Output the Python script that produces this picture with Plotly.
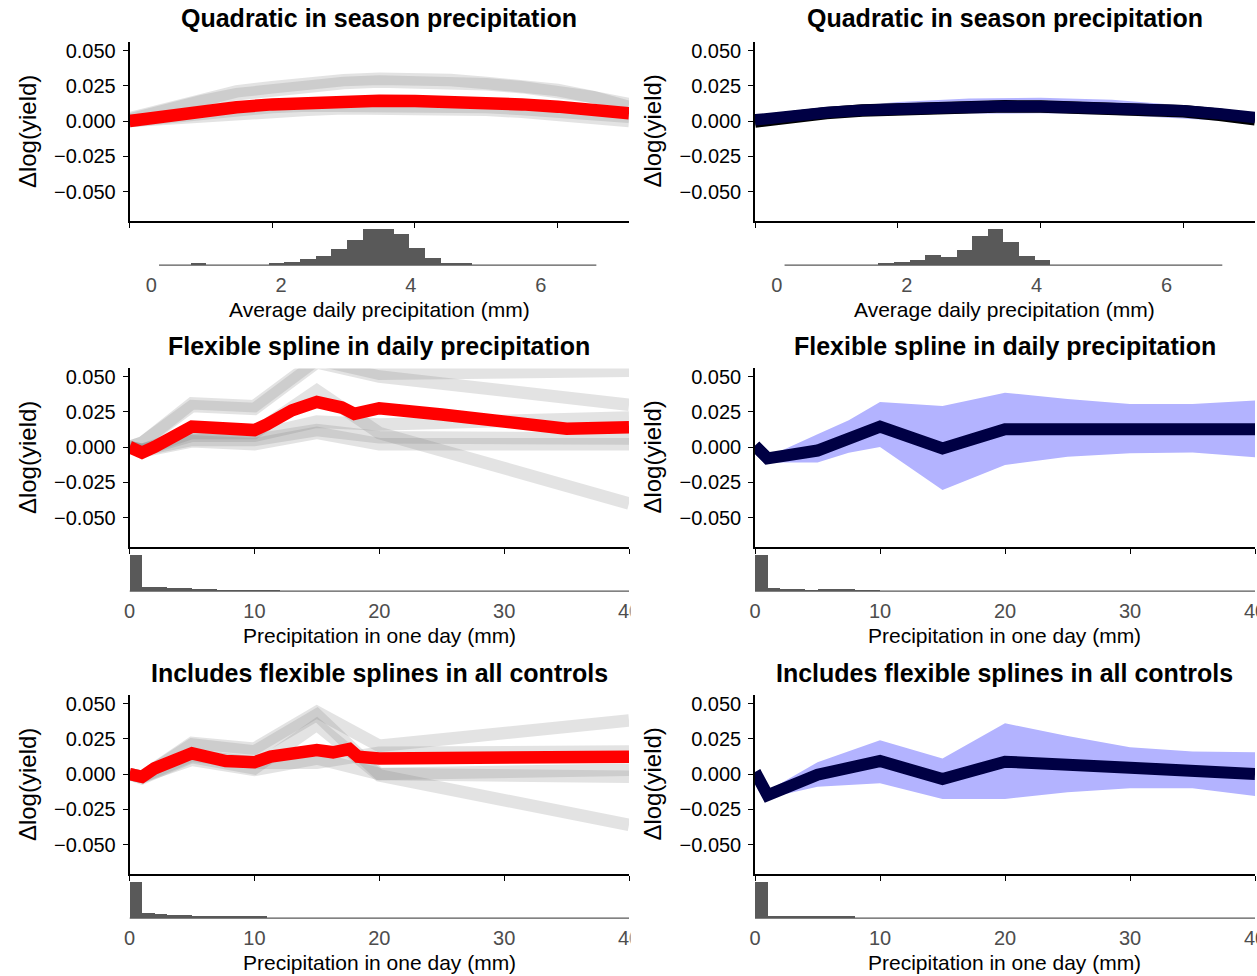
import plotly.graph_objects as go

# ---------------------------------------------------------------- data
FONT = "Liberation Sans, Arial, sans-serif"
W, H = 1257, 976

panel_titles = [
    "Quadratic in season precipitation",
    "Quadratic in season precipitation",
    "Flexible spline in daily precipitation",
    "Flexible spline in daily precipitation",
    "Includes flexible splines in all controls",
    "Includes flexible splines in all controls",
]
x_titles = [
    "Average daily precipitation (mm)",
    "Precipitation in one day (mm)",
    "Precipitation in one day (mm)",
]
y_title = "Δlog(yield)"
y_tickvals = [-0.05, -0.025, 0.0, 0.025, 0.05]
y_ticktext = ["−0.050", "−0.025", "0.000", "0.025", "0.050"]
quad_ticks = [0, 2, 4, 6]
daily_ticks = [0, 10, 20, 30, 40]

# Row 1: quadratic in season precipitation (mm/day)
quad_x = [0, 0.5, 1, 1.5, 2, 2.5, 3, 3.5, 4, 4.5, 5, 5.5, 6, 6.5, 7]
quad_red = [0.0, 0.0040, 0.0072, 0.0098, 0.0118, 0.0132, 0.0140, 0.0143,
            0.0142, 0.0138, 0.0130, 0.0118, 0.0102, 0.0080, 0.0055]
quad_gray = [
    [0.001, 0.008, 0.014, 0.019, 0.022, 0.025, 0.027, 0.028, 0.028, 0.0275, 0.026, 0.024, 0.021, 0.017, 0.012],
    [0.002, 0.009, 0.016, 0.021, 0.024, 0.027, 0.029, 0.030, 0.030, 0.029, 0.027, 0.025, 0.022, 0.017, 0.010],
    [0.0, 0.002, 0.004, 0.006, 0.007, 0.008, 0.009, 0.009, 0.009, 0.0088, 0.008, 0.0065, 0.005, 0.0025, 0.0],
    [0.0, 0.003, 0.006, 0.008, 0.010, 0.011, 0.011, 0.0115, 0.011, 0.0108, 0.010, 0.0085, 0.007, 0.005, 0.003],
]
quad_black = [-0.0004, 0.0030, 0.0056, 0.0074, 0.0087, 0.0096, 0.0101, 0.0104,
              0.0103, 0.0099, 0.0092, 0.0083, 0.0069, 0.0044, 0.0012]
quad_navy = [0.0008, 0.0038, 0.0060, 0.0076, 0.0087, 0.0096, 0.0101, 0.0104,
             0.0103, 0.0099, 0.0092, 0.0084, 0.0073, 0.0052, 0.0024]
quad_ci_x = [0, 1, 2, 3, 4, 5, 6, 7]
quad_ci_hi = [0.002, 0.009, 0.0135, 0.016, 0.0165, 0.015, 0.011, 0.004]
quad_ci_lo = [-0.002, 0.003, 0.005, 0.0055, 0.0055, 0.0045, 0.002, -0.001]

# Row 2: spline in daily precipitation (mm)
spl_red_x = [0, 1, 2, 3, 4, 5, 6, 8, 10, 11, 12, 13, 15, 16, 17, 18, 20, 25, 30, 35, 40]
spl_red = [0.0, -0.004, 0.0, 0.005, 0.011, 0.0145, 0.014, 0.012, 0.012, 0.016,
           0.022, 0.026, 0.032, 0.031, 0.028, 0.0235, 0.0275, 0.023, 0.018, 0.013, 0.014]
knots = [0, 1, 5, 10, 15, 20, 40]
spl_gray = [
    [0.0, 0.003, 0.031, 0.029, 0.062, 0.052, 0.054],
    [0.0, 0.003, 0.029, 0.027, 0.060, 0.050, 0.030],
    [0.0, -0.002, 0.010, 0.010, 0.040, 0.010, -0.040],
    [0.0, -0.002, 0.005, 0.005, 0.012, 0.007, 0.006],
    [0.0, -0.002, 0.008, 0.008, 0.018, 0.016, 0.021],
    [0.0, -0.003, 0.004, 0.002, 0.010, 0.002, 0.002],
]
spl_navy = [0.001, -0.008, -0.0025, 0.0145, -0.001, 0.0126, 0.0126]
spl_ci_x = [0, 1, 5, 7.5, 10, 15, 20, 25, 30, 35, 40]
spl_ci_hi = [0.001, -0.007, 0.009, 0.019, 0.032, 0.029, 0.0385, 0.034, 0.0305, 0.0305, 0.033]
spl_ci_lo = [0.0, -0.011, -0.011, -0.004, 0.0, -0.0305, -0.0128, -0.0069, -0.0045, -0.0038, -0.0073]

# Row 3: spline with flexible controls
ctl_red_x = [0, 1, 2, 5, 7.7, 10, 11.3, 15, 16.3, 17.6, 18.3, 20, 40]
ctl_red = [0.0, -0.002, 0.004, 0.0147, 0.0092, 0.0083, 0.0123, 0.017, 0.0154,
           0.0177, 0.0123, 0.011, 0.0123]
ctl_gray = [
    [0.0, -0.002, 0.022, 0.018, 0.044, 0.020, 0.038],
    [0.0, -0.002, 0.021, 0.016, 0.042, 0.000, 0.003],
    [0.0, -0.003, 0.012, 0.004, 0.035, -0.001, -0.036],
    [0.0, -0.002, 0.010, 0.003, 0.011, 0.000, -0.002],
    [0.0, -0.002, 0.013, 0.008, 0.008, 0.015, 0.016],
]
ctl_navy_x = [0, 1, 5, 10, 15, 20, 30, 40]
ctl_navy = [0.0015, -0.015, -0.0005, 0.0092, -0.0035, 0.0087, 0.0045, 0.0]
ctl_ci_x = [0, 1, 5, 10, 15, 20, 25, 30, 35, 40]
ctl_ci_hi = [0.001, -0.012, 0.0083, 0.024, 0.011, 0.036, 0.027, 0.019, 0.016, 0.0155]
ctl_ci_lo = [0.0, -0.017, -0.009, -0.0066, -0.0177, -0.0177, -0.013, -0.010, -0.010, -0.0155]

# Histograms of the weather variable (relative counts)
season_bin_start = 0.12
season_bin_width = 0.2406
season_counts_left = [0, 0, 1, 0, 0, 0, 0, 1, 3, 6.3, 9, 16.3, 25, 36, 36, 31,
                      17, 7, 2, 1, 0, 0, 0, 0, 0, 0, 0, 0]
season_counts_right = [0, 0, 0, 0, 0, 0, 1, 3, 5.3, 10, 8, 15.3, 29, 36, 23.3,
                       9, 5.3, 0, 0, 0, 0, 0, 0, 0, 0, 0, 0, 0]
daily_bin_width = 1.0
daily_counts_mid_left = [36.7, 4.3, 4.0, 2.7, 2.7, 1.3, 1.3, 0.7, 0.7, 0.7, 0.7, 0.3]
daily_counts_mid_right = [36.7, 3.3, 2.3, 2.3, 1.0, 1.7, 1.7, 1.7, 1.0, 1.0]
daily_counts_bot_left = [36, 5.3, 4.0, 2.7, 2.7, 1.7, 1.7, 1.0, 1.0, 1.0, 1.0]
daily_counts_bot_right = [36, 1.7, 1.7, 1.7, 1.0, 1.0, 1.0, 1.0]

# ---------------------------------------------------------------- styling
RED = "#FF0000"
NAVY = "#000044"
GRAY_LINE = "rgba(128,128,128,0.22)"
RIBBON = "#B3B3FF"
HIST = "#595959"
LINE_W = 12.5

col_px = [(129.5, 629.0), (755.0, 1255.0)]
row_main_px = [(42.4, 220.8), (368.4, 546.8), (695.4, 873.8)]
title_px = [18, 346, 673]
Y_RANGE = [-0.07075, 0.05575]


def fx(px):
    return px / W


def fy(py):
    return 1 - py / H


fig = go.Figure()
layout = {}
annotations = []
shapes = []


def add_line(ax, xs, ys, color, width):
    fig.add_trace(go.Scatter(x=xs, y=ys, mode="lines", xaxis=ax[0], yaxis=ax[1],
                             line=dict(color=color, width=width),
                             hoverinfo="skip", showlegend=False))


def add_ribbon(ax, xs, hi, lo):
    fig.add_trace(go.Scatter(x=list(xs) + list(xs)[::-1], y=list(hi) + list(lo)[::-1],
                             mode="lines", fill="toself", fillcolor=RIBBON,
                             line=dict(width=0, color=RIBBON), xaxis=ax[0], yaxis=ax[1],
                             hoverinfo="skip", showlegend=False))


def add_hist(ax, start, width, counts):
    n = len(counts)
    centers = [start + width * (k + 0.5) for k in range(n)]
    fig.add_trace(go.Bar(x=centers, y=counts, width=width, xaxis=ax[0], yaxis=ax[1],
                         marker=dict(color=HIST, line=dict(width=0)),
                         hoverinfo="skip", showlegend=False))


def add_baseline(ax, x0, x1):
    fig.add_trace(go.Scatter(x=[x0, x1], y=[0, 0], mode="lines", xaxis=ax[0], yaxis=ax[1],
                             line=dict(color=HIST, width=1.2),
                             hoverinfo="skip", showlegend=False))


for p in range(6):
    row, col = divmod(p, 2)
    cx0, cx1 = col_px[col]
    ry0, ry1 = row_main_px[row]
    hy0, hy1 = ry1 + 6.4, ry1 + 46.2
    mi, hi_ = 2 * p + 1, 2 * p + 2
    main_ax = (f"x{mi}", f"y{mi}")
    hist_ax = (f"x{hi_}", f"y{hi_}")
    if row == 0:
        xr, ticks = [0, 7], quad_ticks
        hxr = [-0.335, 7.36]
    else:
        xr, ticks = [0, 40], daily_ticks
        hxr = [0, 40]

    layout[f"xaxis{mi}"] = dict(
        domain=[fx(cx0), fx(cx1)], range=xr, anchor=f"y{mi}", tickvals=ticks,
        showticklabels=False, ticks="outside", ticklen=5, tickwidth=1.2, tickcolor="black",
        showline=True, linecolor="black", linewidth=1.5, showgrid=False, zeroline=False,
        fixedrange=True)
    layout[f"yaxis{mi}"] = dict(
        domain=[fy(ry1), fy(ry0)], range=Y_RANGE, anchor=f"x{mi}",
        tickvals=y_tickvals, ticktext=y_ticktext, ticks="outside", ticklen=5,
        tickwidth=1.2, tickcolor="black", showline=True, linecolor="black", linewidth=1.5,
        showgrid=False, zeroline=False, ticklabelstandoff=3,
        tickfont=dict(family=FONT, size=20, color="black"), fixedrange=True)

    annotations.append(dict(
        text=panel_titles[p], x=fx((cx0 + cx1) / 2), y=fy(title_px[row]), xref="paper",
        yref="paper", xanchor="center", yanchor="middle", showarrow=False,
        font=dict(family=FONT, size=25, color="black", weight="bold")))
    annotations.append(dict(
        text=y_title, x=fx(cx0 - 102), y=fy((ry0 + ry1) / 2), xref="paper", yref="paper",
        xanchor="center", yanchor="middle", textangle=-90, showarrow=False,
        font=dict(family=FONT, size=24, color="black")))
    annotations.append(dict(
        text=x_titles[row], x=fx((cx0 + cx1) / 2), y=fy(ry1 + 89), xref="paper",
        yref="paper", xanchor="center", yanchor="middle", showarrow=False,
        font=dict(family=FONT, size=21, color="black")))

    # histogram counts for this panel
    if row == 0:
        counts = season_counts_left if col == 0 else season_counts_right
        add_hist(hist_ax, season_bin_start, season_bin_width, counts)
        add_baseline(hist_ax, season_bin_start,
                     season_bin_start + season_bin_width * len(counts))
    else:
        counts = {(1, 0): daily_counts_mid_left, (1, 1): daily_counts_mid_right,
                  (2, 0): daily_counts_bot_left, (2, 1): daily_counts_bot_right}[(row, col)]
        add_hist(hist_ax, 0, daily_bin_width, counts)
        add_baseline(hist_ax, 0, 40)
    cmax = max(counts)
    layout[f"xaxis{hi_}"] = dict(
        domain=[fx(cx0), fx(cx1)], range=hxr, anchor=f"y{hi_}", tickvals=ticks,
        showticklabels=True, ticks="", showline=False, showgrid=False, zeroline=False,
        ticklabelstandoff=4, ticklabeloverflow="allow",
        tickfont=dict(family=FONT, size=20, color="#4D4D4D"), fixedrange=True)
    layout[f"yaxis{hi_}"] = dict(
        domain=[fy(hy1), fy(hy0)], range=[-0.05 * cmax, 1.05 * cmax], anchor=f"x{hi_}",
        visible=False, fixedrange=True)

    # response curves
    if row == 0:
        if col == 0:
            for g in quad_gray:
                add_line(main_ax, quad_x, g, GRAY_LINE, 12.5)
            add_line(main_ax, quad_x, quad_red, RED, LINE_W)
        else:
            add_ribbon(main_ax, quad_ci_x, quad_ci_hi, quad_ci_lo)
            add_line(main_ax, quad_x, quad_black, "black", 12.5)
            add_line(main_ax, quad_x, quad_navy, NAVY, 11.5)
    elif row == 1:
        if col == 0:
            for g in spl_gray:
                add_line(main_ax, knots, g, GRAY_LINE, 12.5)
            add_line(main_ax, spl_red_x, spl_red, RED, LINE_W)
        else:
            add_ribbon(main_ax, spl_ci_x, spl_ci_hi, spl_ci_lo)
            add_line(main_ax, knots, spl_navy, NAVY, 12)
    else:
        if col == 0:
            for g in ctl_gray:
                add_line(main_ax, knots, g, GRAY_LINE, 12.5)
            add_line(main_ax, ctl_red_x, ctl_red, RED, LINE_W)
        else:
            add_ribbon(main_ax, ctl_ci_x, ctl_ci_hi, ctl_ci_lo)
            add_line(main_ax, ctl_navy_x, ctl_navy, NAVY, 12)

# the left column's last tick label is cut at the column boundary
for ry in (611, 937):
    shapes.append(dict(type="rect", xref="paper", yref="paper", layer="above",
                       x0=fx(630.5), x1=fx(660), y0=fy(ry + 13), y1=fy(ry - 13),
                       fillcolor="white", line=dict(width=0)))

fig.update_layout(
    width=W, height=H, autosize=False, margin=dict(l=0, r=0, t=0, b=0, autoexpand=False),
    paper_bgcolor="white", plot_bgcolor="white",
    font=dict(family=FONT), showlegend=False, bargap=0,
    annotations=annotations, shapes=shapes, **layout)

fig.write_html(
    "out.html",
    config={"responsive": False, "displayModeBar": False},
    post_script="document.body.style.margin = '0'; document.body.style.overflow = 'hidden';",
)
